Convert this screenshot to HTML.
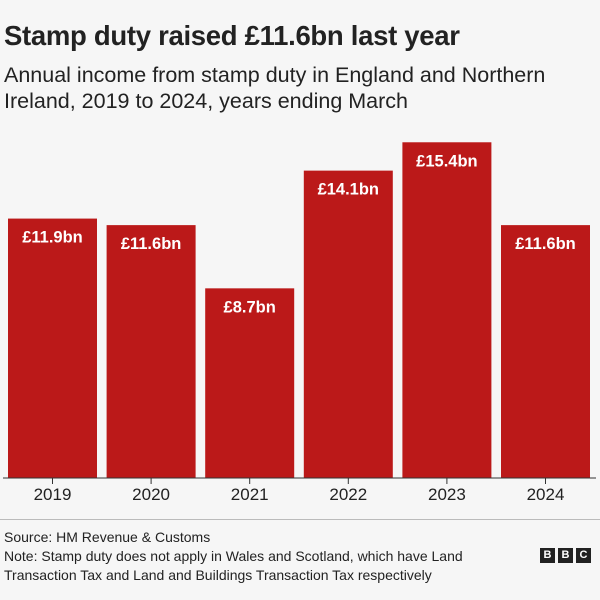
<!DOCTYPE html>
<html><head><meta charset="utf-8"><style>
body{margin:0;width:600px;height:600px;background:#f6f6f6;font-family:"Liberation Sans",sans-serif;overflow:hidden;position:relative;color:#222}
.t{position:absolute;left:4px;white-space:nowrap}
</style></head><body>
<div class="t" style="top:20px;font-size:27.5px;font-weight:bold;letter-spacing:-0.3px">Stamp duty raised £11.6bn last year</div>
<div class="t" style="top:62px;font-size:21.5px;line-height:26px;color:#222">Annual income from stamp duty in England and Northern<br>Ireland, 2019 to 2024, years ending March</div>
<svg id="c" width="600" height="600" style="position:absolute;left:0;top:0"></svg>
<div style="position:absolute;left:0;top:519px;width:600px;height:1px;background:#bbb"></div>
<div class="t" style="top:528px;font-size:14px;line-height:19px">Source: HM Revenue &amp; Customs<br>Note: Stamp duty does not apply in Wales and Scotland, which have Land<br>Transaction Tax and Land and Buildings Transaction Tax respectively</div>
<div style="position:absolute;left:540px;top:548px;display:flex;gap:3px">
<span style="width:15px;height:15px;background:#222;color:#fff;font:bold 11px 'Liberation Sans';text-align:center;line-height:15px">B</span><span style="width:15px;height:15px;background:#222;color:#fff;font:bold 11px 'Liberation Sans';text-align:center;line-height:15px">B</span><span style="width:15px;height:15px;background:#222;color:#fff;font:bold 11px 'Liberation Sans';text-align:center;line-height:15px">C</span></div>
<script>
const years=["2019","2020","2021","2022","2023","2024"];
const values=[11.9,11.6,8.7,14.1,15.4,11.6];
const labels=["£11.9bn","£11.6bn","£8.7bn","£14.1bn","£15.4bn","£11.6bn"];
const svg=document.getElementById('c');const NS='http://www.w3.org/2000/svg';
const base=478,scale=21.8,x0=8,step=98.6,bw=89;
const y=v=>base-v*scale;
function mk(t,a){const e=document.createElementNS(NS,t);for(const k in a)e.setAttribute(k,a[k]);svg.appendChild(e);return e;}
values.forEach((v,i)=>{
const x=x0+i*step;
const r=mk('rect',{x:x,y:y(v),width:bw,height:base-y(v),fill:'#bb1919'});


const t=mk('text',{x:x+bw/2,y:y(v)+24,'text-anchor':'middle',fill:'#fff','font-size':'16.5','font-weight':'bold','font-family':'Liberation Sans'});
t.textContent=labels[i];


const tk=mk('line',{x1:x+bw/2,x2:x+bw/2,y1:base,y2:base+6,stroke:'#333','stroke-width':1});


const yl=mk('text',{x:x+bw/2,y:base+22,'text-anchor':'middle',fill:'#222','font-size':'17','font-family':'Liberation Sans'});
yl.textContent=years[i];


});
const ax=mk('line',{x1:3,x2:596,y1:base,y2:base,stroke:'#333','stroke-width':1});


</script>
</body></html>
